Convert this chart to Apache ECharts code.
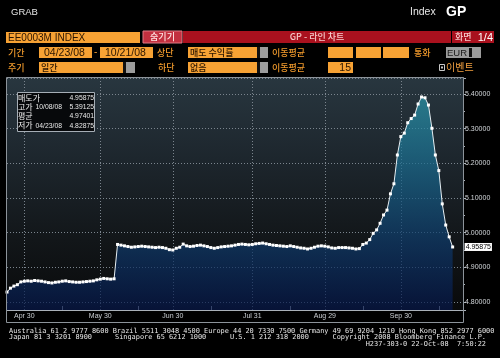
<!DOCTYPE html>
<html><head><meta charset="utf-8">
<script src="https://cdn.jsdelivr.net/npm/echarts@6/dist/echarts.min.js"></script>
<style>html,body{margin:0;padding:0;background:#000;overflow:hidden}#c{width:500px;height:358px}</style>
</head><body><div id="c"></div>
<script>
// ---- DATA ----
const dates = [
  '04/23/08','04/24/08','04/25/08','04/28/08','04/29/08','04/30/08',
  '05/01/08','05/02/08','05/05/08','05/06/08','05/07/08','05/08/08','05/09/08','05/12/08','05/13/08','05/14/08','05/15/08','05/16/08','05/19/08','05/20/08','05/21/08','05/22/08','05/23/08','05/26/08','05/27/08','05/28/08','05/29/08','05/30/08',
  '06/02/08','06/03/08','06/04/08','06/05/08','06/06/08','06/09/08','06/10/08','06/11/08','06/12/08','06/13/08','06/16/08','06/17/08','06/18/08','06/19/08','06/20/08','06/23/08','06/24/08','06/25/08','06/26/08','06/27/08','06/30/08',
  '07/01/08','07/02/08','07/03/08','07/04/08','07/07/08','07/08/08','07/09/08','07/10/08','07/11/08','07/14/08','07/15/08','07/16/08','07/17/08','07/18/08','07/21/08','07/22/08','07/23/08','07/24/08','07/25/08','07/28/08','07/29/08','07/30/08','07/31/08',
  '08/01/08','08/04/08','08/05/08','08/06/08','08/07/08','08/08/08','08/11/08','08/12/08','08/13/08','08/14/08','08/15/08','08/18/08','08/19/08','08/20/08','08/21/08','08/22/08','08/25/08','08/26/08','08/27/08','08/28/08','08/29/08',
  '09/01/08','09/02/08','09/03/08','09/04/08','09/05/08','09/08/08','09/09/08','09/10/08','09/11/08','09/12/08','09/15/08','09/16/08','09/17/08','09/18/08','09/19/08','09/22/08','09/23/08','09/24/08','09/25/08','09/26/08','09/29/08','09/30/08',
  '10/01/08','10/02/08','10/03/08','10/06/08','10/07/08','10/08/08','10/09/08','10/10/08','10/13/08','10/14/08','10/15/08','10/16/08','10/17/08','10/20/08','10/21/08',
  '10/22/08','10/23/08','10/24/08'
];
const askYield = [
  4.82875,4.840,4.846,4.850,4.858,4.860,
  4.861,4.860,4.862,4.861,4.860,4.858,4.856,4.855,4.857,4.858,4.860,4.861,4.859,4.858,4.857,4.857,4.858,4.859,4.860,4.861,4.864,4.866,
  4.868,4.867,4.866,4.867,4.966,4.964,4.962,4.960,4.958,4.959,4.960,4.961,4.960,4.959,4.958,4.957,4.958,4.957,4.955,4.951,4.950,
  4.955,4.958,4.967,4.962,4.960,4.961,4.963,4.964,4.962,4.960,4.957,4.955,4.957,4.959,4.960,4.961,4.962,4.964,4.966,4.967,4.966,4.965,4.966,
  4.968,4.969,4.970,4.968,4.966,4.964,4.963,4.962,4.961,4.960,4.962,4.960,4.958,4.956,4.955,4.953,4.955,4.958,4.961,4.962,4.961,
  4.959,4.956,4.955,4.957,4.957,4.957,4.956,4.955,4.953,4.954,4.966,4.970,4.980,4.998,5.008,5.027,5.051,5.065,5.112,5.141,5.224,5.277,
  5.287,5.317,5.329,5.339,5.371,5.39125,5.389,5.368,5.301,5.224,5.179,5.083,5.022,4.988,4.95875
];
const labelDates = ['04/30/08','05/30/08','06/30/08','07/31/08','08/29/08','09/30/08'];
const midTickDates = ['05/15/08','06/16/08','07/15/08','08/15/08','09/15/08','10/15/08'];
const yRange = [4.777, 5.446];
const statLabels = ['매도가','고가','평균','저가'];
const statDates = ['','10/08/08','','04/23/08'];
const statValues = ['4.95875','5.39125','4.97401','4.82875'];
const monthNames = ['Jan','Feb','Mar','Apr','May','Jun','Jul','Aug','Sep','Oct','Nov','Dec'];

// ---- STYLE HELPERS ----
const ORANGE = '#f7a234', DARK = '#2a1500', OTXT = '#f19a2c', GREY = '#9c9c9c';
const KR = "'Noto Sans CJK KR','Noto Sans',sans-serif";
const LS = "'Liberation Sans','Noto Sans CJK KR',sans-serif";
const MONO = "'DejaVu Sans Mono','Liberation Mono',monospace";
const els = [];
function rect(x,y,w,h,fill,stroke,z){
  els.push({type:'rect', z: z||10, shape:{x:x,y:y,width:w,height:h}, style:{fill:fill||'none', stroke:stroke||null, lineWidth:1}, silent:true});
}
function txt(x,y,t,fill,font,align,z){
  els.push({type:'text', z: z||11, style:{x:x,y:y,text:t,fill:fill,font:font,textAlign:align||'left',textVerticalAlign:'middle',align:align||'left',verticalAlign:'middle'}, silent:true});
}
// top line
txt(11,12,'GRAB','#e6e6e6','9.5px '+LS);
txt(410,12,'Index','#e6e6e6','10.5px '+LS);
txt(446,12,'GP','#ffffff','bold 14px '+LS);
// row 1
rect(6,32,134,11,ORANGE);
txt(8,37.8,'EE0003M INDEX',DARK,'10px '+LS);
rect(143,31,39,12,'#c3303f','#e27a86');
txt(162.5,37,'숨기기','#ffe4e4','500 9px '+KR,'center');
rect(183,31,268,12,'#a9111e');
txt(317,37,'GP - 라인 차트','#f6caca','500 9px '+KR,'center');
rect(452,31,42,12,'#a9111e');
txt(455,37,'화면','#f6caca','500 9px '+KR);
txt(493,37.5,'1/4','#ffffff','11px '+LS,'right');
// row 2
txt(8,52.5,'기간',OTXT,'500 9px '+KR);
rect(39,47,53,11,ORANGE); txt(44,53,'04/23/08',DARK,'10.5px '+LS);
txt(94,52.5,'-',OTXT,'10px '+LS);
rect(100,47,53,11,ORANGE); txt(105,53,'10/21/08',DARK,'10.5px '+LS);
txt(157,52.5,'상단',OTXT,'500 9px '+KR);
rect(188,47,69,11,ORANGE); rect(257,47,3,11,'#111'); rect(260,47,8,11,GREY);
txt(190,52.5,'매도 수익률',DARK,'500 9px '+KR);
txt(272,52.5,'이동평균',OTXT,'500 9px '+KR);
rect(328,47,25,11,ORANGE); rect(356,47,25,11,ORANGE); rect(383,47,26,11,ORANGE);
txt(414,52.5,'통화',OTXT,'500 9px '+KR);
rect(446,47,35,11,GREY); txt(447,53,'EUR','#1a1a1a','9.5px '+LS); rect(469,48,3,9,'#111');
// row 3
txt(8,67.5,'주기',OTXT,'500 9px '+KR);
rect(39,62,84,11,ORANGE); rect(123,62,3,11,'#111'); rect(126,62,9,11,GREY);
txt(41,67.5,'일간',DARK,'500 9px '+KR);
txt(158,67.5,'하단',OTXT,'500 9px '+KR);
rect(188,62,69,11,ORANGE); rect(257,62,3,11,'#111'); rect(260,62,8,11,GREY);
txt(190,67.5,'없음',DARK,'500 9px '+KR);
txt(272,67.5,'이동평균',OTXT,'500 9px '+KR);
rect(328,62,25,11,ORANGE); txt(351,68,'15',DARK,'10.5px '+LS,'right');
rect(439.5,64.5,5,6,'none','#c8c8c8'); rect(441,66.5,2,2,'#c8c8c8');
txt(446,67.5,'이벤트','#f2a040','10px '+KR);
// frame around chart
rect(6.5,77.5,457,245,'none','#8c939a',20);
// stats box
rect(17.5,92.5,77,39,'#07090b','#a6aeb6',30);
const rowsY = [97.5,106.8,116,125.3];
for (let i=0;i<4;i++){
  txt(18,rowsY[i],statLabels[i],'#f0f0f0','8px '+KR,'left',31);
  if (statDates[i]) txt(35.5,rowsY[i]+0.5,statDates[i],'#e8e8e8','6.8px '+LS,'left',31);
  txt(94,rowsY[i]+0.5,statValues[i],'#e8e8e8','6.8px '+LS,'right',31);
}
// footer
txt(9,331,'Australia 61 2 9777 8600 Brazil 5511 3048 4500 Europe 44 20 7330 7500 Germany 49 69 9204 1210 Hong Kong 852 2977 6000','#e8e8e8','6.9px '+MONO);
txt(9,337.5,'Japan 81 3 3201 8900','#e8e8e8','6.9px '+MONO);
txt(115,337.5,'Singapore 65 6212 1000','#e8e8e8','6.9px '+MONO);
txt(230,337.5,'U.S. 1 212 318 2000','#e8e8e8','6.9px '+MONO);
txt(486,337.5,'Copyright 2008 Bloomberg Finance L.P.','#e8e8e8','6.9px '+MONO,'right');
txt(486,344.5,'H237-303-0 22-Oct-08  7:50:22','#e8e8e8','6.9px '+MONO,'right');

const chart = echarts.init(document.getElementById('c'));
const AX = '#a9b0b8';
chart.setOption({
  backgroundColor:'#000',
  animation:false,
  grid:{left:7,right:37,top:78,bottom:48,show:true,borderWidth:0,
    backgroundColor:new echarts.graphic.LinearGradient(0,0,0,1,[
      {offset:0,color:'#28363f'},{offset:0.35,color:'#1d262d'},{offset:0.7,color:'#121619'},{offset:1,color:'#090a0b'}])},
  xAxis:{type:'category',data:dates,boundaryGap:false,
    axisLine:{lineStyle:{color:AX,width:1}},
    axisTick:{show:true,inside:true,length:4,interval:(i,v)=>midTickDates.includes(v),lineStyle:{color:AX}},
    axisLabel:{interval:(i,v)=>labelDates.includes(v),formatter:v=>monthNames[+v.slice(0,2)-1]+' '+v.slice(3,5),
      color:'#c9cdd2',fontSize:7,fontFamily:'Liberation Sans',margin:3},
    splitLine:{show:true,interval:(i,v)=>labelDates.includes(v),lineStyle:{color:'#7b858e',type:[1,2],width:1}}},
  yAxis:{type:'value',position:'right',min:yRange[0],max:yRange[1],splitNumber:6,
    axisLine:{show:true,lineStyle:{color:AX}},
    axisTick:{show:true,length:3,lineStyle:{color:AX}},
    minorTick:{show:true,splitNumber:2,length:2,lineStyle:{color:AX}},
    axisLabel:{formatter:v=>v.toFixed(5),color:'#d2d6da',fontSize:7,fontFamily:'Liberation Sans',margin:2,showMinLabel:false,showMaxLabel:false},
    splitLine:{show:true,lineStyle:{color:'#7b858e',type:[1,2],width:1}}},
  series:[{type:'line',data:askYield,symbol:'rect',symbolSize:3,showAllSymbol:true,
    itemStyle:{color:'#ffffff'},lineStyle:{color:'#e6eef2',width:1},
    areaStyle:{color:new echarts.graphic.LinearGradient(0,0,0,1,[
      {offset:0,color:'#2a98ad'},{offset:0.3,color:'#1b7093'},{offset:0.68,color:'#0e3b6c'},{offset:1,color:'#06174a'}])},
    endLabel:{show:true,distance:12,formatter:p=>Number(p.value).toFixed(5),backgroundColor:'#ffffff',color:'#000',
      fontSize:7,fontFamily:'Liberation Sans',padding:[1,1,0,1]}}],
  graphic:{elements:els}
});
</script></body></html>
